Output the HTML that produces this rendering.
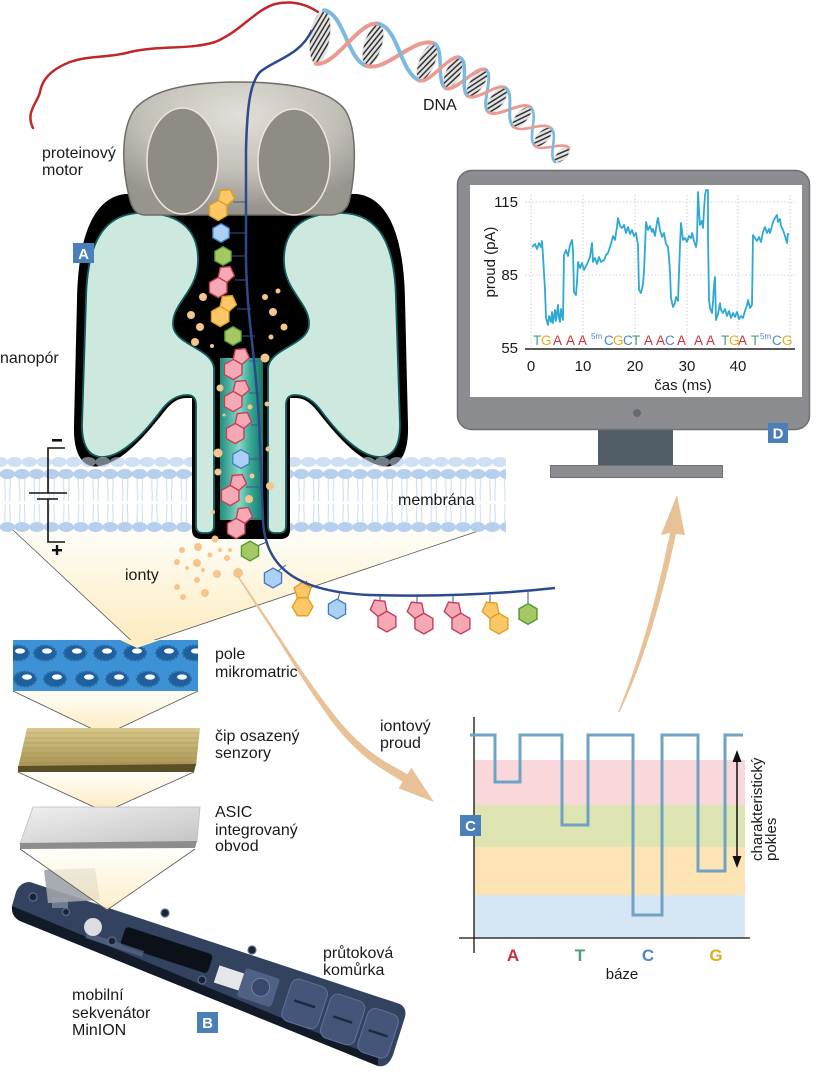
<!DOCTYPE html>
<html><head><meta charset="utf-8">
<style>
html,body{margin:0;padding:0;background:#fff;}
svg{display:block;}
text{font-family:"Liberation Sans",Arial,sans-serif;fill:#1a1a1a;}
.pk{fill:#f5a9b4;stroke:#c43c58;stroke-width:1.2;}
.yl{fill:#fcc867;stroke:#dea021;stroke-width:1.2;}
.bl{fill:#acd0f3;stroke:#3f79c4;stroke-width:1.2;}
.gr{fill:#a6c863;stroke:#4b9a2b;stroke-width:1.2;}
.cn{stroke:#3a5690;stroke-width:1;}
.ion{fill:#f7c48c;}
.lbl{font-size:16px;}
.badge{fill:#4a7fb9;}
.bt{fill:#fff;font-weight:bold;font-size:15px;text-anchor:middle;}
</style></head>
<body>
<svg width="816" height="1080" viewBox="0 0 816 1080" xmlns="http://www.w3.org/2000/svg" xmlns:xlink="http://www.w3.org/1999/xlink">
<defs>
  <pattern id="hatch" width="4" height="4" patternUnits="userSpaceOnUse" patternTransform="rotate(22)">
    <rect width="4" height="4" fill="#e2e2e2"/><rect width="1.5" height="4" fill="#333"/>
  </pattern>
  <pattern id="mem" x="0" y="455" width="14.7" height="80" patternUnits="userSpaceOnUse">
    <ellipse cx="0" cy="7" rx="7.6" ry="5" fill="#cfe0f4"/>
    <ellipse cx="14.7" cy="7" rx="7.6" ry="5" fill="#cfe0f4"/>
    <path d="M5,23 C4,31 6,37 5,46 M10,23 C11,31 9,37 10,46 M5,67 C4,60 6,55 5,49 M10,67 C11,60 9,55 10,49" stroke="#cadcf1" stroke-width="1" fill="none"/>
    <ellipse cx="7.35" cy="19" rx="7.6" ry="5" fill="#b5cfed"/>
    <ellipse cx="7.35" cy="72" rx="7.6" ry="5" fill="#b5cfed"/>
  </pattern>
  <radialGradient id="motorG" cx="0.5" cy="0.25" r="0.7">
    <stop offset="0" stop-color="#e2dfd8"/><stop offset=".6" stop-color="#c3c0b8"/><stop offset="1" stop-color="#98958f"/>
  </radialGradient>
  <linearGradient id="chan" x1="0" y1="0" x2="1" y2="0">
    <stop offset="0" stop-color="#1f8d7e"/><stop offset=".45" stop-color="#8ad8c6"/><stop offset=".7" stop-color="#3aa997"/><stop offset="1" stop-color="#167668"/>
  </linearGradient>
  <linearGradient id="fan" x1="0" y1="0" x2="0" y2="1">
    <stop offset="0" stop-color="#fffefa"/><stop offset="1" stop-color="#fcebbd"/>
  </linearGradient>
  <linearGradient id="gold" x1="0" y1="0" x2="0" y2="1">
    <stop offset="0" stop-color="#d8c98c"/><stop offset="1" stop-color="#a89350"/>
  </linearGradient>
  <linearGradient id="silver" x1="0" y1="0" x2="1" y2="1">
    <stop offset="0" stop-color="#f0f0f0"/><stop offset=".5" stop-color="#dadada"/><stop offset="1" stop-color="#c4c4c4"/>
  </linearGradient>
  <polygon id="hx" points="0,-9 7.8,-4.5 7.8,4.5 0,9 -7.8,4.5 -7.8,-4.5"/>
  <g id="pair">
    <polygon points="3.4,-4.1 -4.4,0.4 -11.1,-5.6 -7.4,-13.8 1.5,-12.9"/>
    <polygon points="3.4,-4.1 11.2,0.4 11.2,9.4 3.4,13.9 -4.4,9.4 -4.4,0.4"/>
  </g>
  <clipPath id="maClip"><rect x="13" y="640" width="185" height="51"/></clipPath>
</defs>

<!-- ===== Fan from membrane ===== -->
<polygon points="13,530 487,528 137,646" fill="url(#fan)"/>
<line x1="13" y1="530" x2="137" y2="646" stroke="#555" stroke-width=".8"/>
<line x1="487" y1="528" x2="137" y2="646" stroke="#555" stroke-width=".8"/>

<!-- ===== Membrane ===== -->
<rect x="0" y="455" width="506" height="80" fill="url(#mem)"/>

<!-- ===== Nanopore ===== -->
<g id="hullL">
<path d="M241,192 L125,194 C92,198 78,240 77,300 L74,425 C73,458 85,469 100,466 C125,461 148,432 164,412 C172,402 178,398 187,398 L192,398 L192,530 Q192,539 202,539 L241,539 Z" fill="#000"/>
</g>
<use href="#hullL" xlink:href="#hullL" transform="translate(482,0) scale(-1,1)"/>
<g id="wingL">
<path d="M86,300 C87,245 102,214 140,213 C182,212 199,232 198,262 C197,292 172,303 173,325 C174,345 212,348 214,368 L214,526 Q214,533 207,533 L203,533 Q196,533 196,526 L196,405 Q196,395 187,395 Q172,395 160,412 C142,436 120,458 101,457 C88,456 82,445 82,425 Z" fill="#cde9df" stroke="#0f5d5e" stroke-width="1.8"/>
</g>
<use href="#wingL" xlink:href="#wingL" transform="translate(482,0) scale(-1,1)"/>
<rect x="220" y="358" width="43" height="162" fill="url(#chan)"/>

<!-- membrane heads in front of wings -->
<rect x="0" y="455" width="190" height="26" fill="url(#mem)" opacity=".55"/>
<rect x="293" y="455" width="213" height="26" fill="url(#mem)" opacity=".55"/>

<!-- ions in pore -->
<g class="ion">
<circle cx="203" cy="297" r="4"/><circle cx="191" cy="315" r="4"/><circle cx="200" cy="327" r="4"/><circle cx="195" cy="342" r="4"/><circle cx="212" cy="346" r="2"/>
<circle cx="265" cy="297" r="3"/><circle cx="278" cy="291" r="2.5"/><circle cx="273" cy="312" r="4"/><circle cx="284" cy="327" r="3.5"/><circle cx="271" cy="337" r="2.5"/>
<circle cx="265" cy="358" r="4.5"/><circle cx="220" cy="388" r="3.5"/><circle cx="250" cy="407" r="2.5"/><circle cx="267" cy="404" r="2.5"/>
<circle cx="218" cy="453" r="4.5"/><circle cx="218" cy="472" r="3.5"/><circle cx="252" cy="476" r="2.5"/><circle cx="270" cy="486" r="4"/><circle cx="249" cy="499" r="4"/><circle cx="213" cy="512" r="2"/><circle cx="268" cy="449" r="2.5"/><circle cx="224" cy="415" r="1.5"/>
</g>

<!-- ===== Motor ===== -->
<path d="M130,200 C122,170 120,132 134,110 C152,88 195,82 238,82 C290,82 330,90 345,110 C357,128 356,170 350,198 C348,210 340,215 330,215 L145,215 C136,215 132,208 130,200 Z" fill="url(#motorG)" stroke="#6f6c66" stroke-width="1.5"/>
<ellipse cx="182.5" cy="161" rx="35.5" ry="53" fill="#8f8c86" stroke="#ece7dc" stroke-width="1.5"/>
<ellipse cx="294" cy="162" rx="36" ry="53" fill="#8f8c86" stroke="#ece7dc" stroke-width="1.5"/>

<!-- connectors to backbone -->
<g class="cn">
<line x1="233" y1="202" x2="246" y2="202"/><line x1="228" y1="233" x2="246" y2="233"/><line x1="230" y1="256" x2="246" y2="256"/>
<line x1="235" y1="280" x2="248" y2="280"/><line x1="237" y1="309" x2="251" y2="309"/><line x1="240" y1="336" x2="255" y2="336"/>
<line x1="249" y1="361" x2="258" y2="361"/><line x1="249" y1="393" x2="260" y2="393"/><line x1="251" y1="425" x2="261" y2="425"/>
<line x1="248" y1="459" x2="262" y2="459"/><line x1="246" y1="487" x2="263" y2="487"/><line x1="251" y1="519" x2="264" y2="519"/>
<line x1="257" y1="546" x2="267" y2="542"/><line x1="278" y1="571" x2="286" y2="565"/><line x1="302" y1="586" x2="307" y2="581"/>
<line x1="338" y1="599" x2="340" y2="592"/><line x1="380" y1="601" x2="380" y2="595"/><line x1="417" y1="604" x2="417" y2="596"/>
<line x1="453" y1="604" x2="453" y2="596"/><line x1="490" y1="604" x2="490" y2="595"/><line x1="528" y1="604" x2="528" y2="592"/>
</g>

<!-- bases in pore -->
<use href="#pair" xlink:href="#pair" class="yl" transform="translate(222,205) scale(-1.12,1.12)"/>
<use href="#hx" xlink:href="#hx" class="bl" transform="translate(221,233) scale(1.05)"/>
<use href="#hx" xlink:href="#hx" class="gr" transform="translate(223,256) scale(1.05)"/>
<use href="#pair" xlink:href="#pair" class="pk" transform="translate(222,282) scale(-1.12,1.12)"/>
<use href="#pair" xlink:href="#pair" class="yl" transform="translate(224,311) scale(-1.12,1.12)"/>
<use href="#hx" xlink:href="#hx" class="gr" transform="translate(233,336) scale(1.05)"/>
<use href="#pair" xlink:href="#pair" class="pk" transform="translate(237,364) scale(-1.12,1.12)"/>
<use href="#pair" xlink:href="#pair" class="pk" transform="translate(237,396) scale(-1.12,1.12)"/>
<use href="#pair" xlink:href="#pair" class="pk" transform="translate(239,428) scale(-1.12,1.12)"/>
<use href="#hx" xlink:href="#hx" class="bl" transform="translate(241,459) scale(1.05)"/>
<use href="#pair" xlink:href="#pair" class="pk" transform="translate(234,490) scale(-1.12,1.12)"/>
<use href="#pair" xlink:href="#pair" class="pk" transform="translate(240,523) scale(-1.12,1.12)"/>
<!-- bases outside -->
<use href="#hx" xlink:href="#hx" class="gr" transform="translate(250,551) scale(1.1)"/>
<use href="#hx" xlink:href="#hx" class="bl" transform="translate(273,578) scale(1.1)"/>
<use href="#pair" xlink:href="#pair" class="yl" transform="translate(302,600) rotate(30) scale(1.15)"/>
<use href="#hx" xlink:href="#hx" class="bl" transform="translate(337,609) scale(1.1)"/>
<use href="#pair" xlink:href="#pair" class="pk" transform="translate(383,616) scale(1.15)"/>
<use href="#pair" xlink:href="#pair" class="pk" transform="translate(420,618) scale(1.15)"/>
<use href="#pair" xlink:href="#pair" class="pk" transform="translate(457,618) scale(1.15)"/>
<use href="#pair" xlink:href="#pair" class="yl" transform="translate(495,618) scale(1.15)"/>
<use href="#hx" xlink:href="#hx" class="gr" transform="translate(528,614) scale(1.15)"/>

<!-- ions below pore -->
<g class="ion">
<circle cx="215" cy="539" r="3.5"/><circle cx="198" cy="547" r="4"/><circle cx="182" cy="550" r="3"/><circle cx="220" cy="550" r="2"/><circle cx="230" cy="550" r="2"/>
<circle cx="210" cy="555" r="2.5"/><circle cx="177" cy="562" r="3"/><circle cx="197" cy="563" r="4"/><circle cx="227" cy="558" r="3"/><circle cx="217" cy="574" r="4"/>
<circle cx="238" cy="573" r="5"/><circle cx="187" cy="568" r="2"/><circle cx="203" cy="570" r="2"/><circle cx="197" cy="580" r="3"/><circle cx="177" cy="587" r="3"/>
<circle cx="205" cy="593" r="4"/><circle cx="183" cy="597" r="3"/>
</g>

<!-- ===== DNA helix ===== -->
<path d="M33,128 C25,112 38,102 40,92 C42,80 50,70 70,62 C90,55 110,58 130,52 C160,45 190,50 215,42 C240,32 255,10 275,4 C292,0 306,4 318,12" fill="none" stroke="#c0282a" stroke-width="2.5" stroke-linecap="round"/>
<g stroke="#e9e9e9" stroke-width="1" fill="url(#hatch)">
<ellipse cx="320" cy="37" rx="10" ry="27" transform="rotate(9 320 37)"/>
<ellipse cx="373" cy="45" rx="9" ry="22" transform="rotate(17 373 45)"/>
<ellipse cx="427" cy="62" rx="8" ry="20" transform="rotate(22 427 62)"/>
<ellipse cx="453" cy="73" rx="7.5" ry="17" transform="rotate(25 453 73)"/>
<ellipse cx="477" cy="83" rx="7" ry="16" transform="rotate(35 477 83)"/>
<ellipse cx="497" cy="100" rx="7" ry="15" transform="rotate(36 497 100)"/>
<ellipse cx="522" cy="117" rx="6" ry="13" transform="rotate(42 522 117)"/>
<ellipse cx="543" cy="137" rx="6" ry="12" transform="rotate(43 543 137)"/>
<ellipse cx="562" cy="155" rx="5" ry="10" transform="rotate(45 562 155)"/>
</g>
<g fill="none" stroke-linecap="round">
<path d="M324.2,10.3 C344,13.4 347.5,60.2 366.6,66" stroke="#7db9de" stroke-width="4"/>
<path d="M366.6,66 C386.6,72 415,35.6 434.5,43.5" stroke="#ec9a8f" stroke-width="4"/>
<path d="M434.5,43.5 C444.7,47.6 435.8,83.7 445.8,88.4" stroke="#7db9de" stroke-width="3.5"/>
<path d="M445.8,88.4 C454.9,92.6 478,64.2 486.2,69.9" stroke="#ec9a8f" stroke-width="3.5"/>
<path d="M486.2,69.9 C494.4,75.6 480.1,106.2 488.2,112.1" stroke="#7db9de" stroke-width="3"/>
<path d="M488.2,112.1 C497.1,118.6 522.5,99.9 530.7,107.3" stroke="#ec9a8f" stroke-width="3"/>
<path d="M530.7,107.3 C538.9,114.7 526.8,138.3 534.8,145.8" stroke="#7db9de" stroke-width="2.6"/>
<path d="M534.8,145.8 C542.1,152.6 562,140.8 569.1,147.9" stroke="#ec9a8f" stroke-width="2.6"/>
<path d="M315.8,63.7 C336,67 360,18 379.4,24" stroke="#ec9a8f" stroke-width="4"/>
<path d="M379.4,24 C399,30 400,72.6 419.5,80.5" stroke="#7db9de" stroke-width="4"/>
<path d="M419.5,80.5 C429.7,84.6 450.2,52.9 460.2,57.6" stroke="#ec9a8f" stroke-width="3.5"/>
<path d="M460.2,57.6 C469.3,61.8 459.6,90.4 467.8,96.1" stroke="#7db9de" stroke-width="3.5"/>
<path d="M467.8,96.1 C476,101.8 497.7,82 505.8,87.9" stroke="#ec9a8f" stroke-width="3"/>
<path d="M505.8,87.9 C514.7,94.4 505.1,119.3 513.3,126.7" stroke="#7db9de" stroke-width="3"/>
<path d="M513.3,126.7 C521.5,134.1 543.2,120.7 551.2,128.2" stroke="#ec9a8f" stroke-width="2.6"/>
<path d="M551.2,128.2 C558.5,135 547.8,155 554.9,162.1" stroke="#7db9de" stroke-width="2.6"/>
</g>
<!-- backbone -->
<path d="M312,30 C300,56 274,60 260,72 C249,84 247,112 246,150 L246,260 C247,320 256,360 259,420 L263,520 C265,570 300,592 370,595 C440,597 500,594 555,588" fill="none" stroke="#2c4a8e" stroke-width="2.5"/>

<!-- ===== Battery ===== -->
<g stroke="#111" stroke-width="1.6" fill="none">
<path d="M65,448 L48,448 L48,493"/><line x1="29" y1="493" x2="67" y2="493"/><line x1="37" y1="499" x2="58" y2="499"/>
<path d="M48,499 L48,542 L65,542"/>
</g>
<rect x="52" y="439" width="10" height="2.6" fill="#111"/>
<rect x="52" y="549" width="10" height="2.4" fill="#111"/><rect x="55.8" y="545" width="2.4" height="10" fill="#111"/>

<!-- ===== Labels top/left ===== -->
<text class="lbl" x="42" y="158">proteinový</text>
<text class="lbl" x="42" y="175">motor</text>
<text class="lbl" x="0" y="363">nanopór</text>
<text class="lbl" x="423" y="110">DNA</text>
<text class="lbl" x="398" y="505">membrána</text>
<text class="lbl" x="125" y="580">ionty</text>
<rect class="badge" x="73" y="243" width="21" height="20"/><text class="bt" x="83.5" y="259">A</text>

<!-- ===== Microarray ===== -->
<rect x="13" y="640" width="185" height="51" fill="#3d92d6"/>
<g clip-path="url(#maClip)">
<g fill="#1f5f9b" stroke="#2a6aa6" stroke-width="2" stroke-dasharray="2 1.5">
<ellipse cx="18" cy="653" rx="11" ry="7.5"/><ellipse cx="45" cy="653" rx="11" ry="7.5"/><ellipse cx="75" cy="653" rx="11" ry="7.5"/><ellipse cx="105" cy="653" rx="11" ry="7.5"/><ellipse cx="135" cy="653" rx="11" ry="7.5"/><ellipse cx="167" cy="653" rx="11" ry="7.5"/><ellipse cx="194" cy="653" rx="11" ry="7.5"/>
<ellipse cx="25" cy="679" rx="11" ry="7.5"/><ellipse cx="55" cy="679" rx="11" ry="7.5"/><ellipse cx="87" cy="679" rx="11" ry="7.5"/><ellipse cx="117" cy="679" rx="11" ry="7.5"/><ellipse cx="148" cy="679" rx="11" ry="7.5"/><ellipse cx="180" cy="679" rx="11" ry="7.5"/>
</g>
<g fill="#fff">
<ellipse cx="20" cy="651" rx="5" ry="2.6"/><ellipse cx="47" cy="651" rx="5" ry="2.6"/><ellipse cx="77" cy="651" rx="5" ry="2.6"/><ellipse cx="107" cy="651" rx="5" ry="2.6"/><ellipse cx="137" cy="651" rx="5" ry="2.6"/><ellipse cx="169" cy="651" rx="5" ry="2.6"/><ellipse cx="196" cy="651" rx="5" ry="2.6"/>
<ellipse cx="27" cy="677" rx="5" ry="2.6"/><ellipse cx="57" cy="677" rx="5" ry="2.6"/><ellipse cx="89" cy="677" rx="5" ry="2.6"/><ellipse cx="119" cy="677" rx="5" ry="2.6"/><ellipse cx="150" cy="677" rx="5" ry="2.6"/><ellipse cx="182" cy="677" rx="5" ry="2.6"/>
</g>
</g>
<polygon points="120,640 160,640 137,648" fill="#fcedc2"/>
<text class="lbl" x="215" y="659">pole</text>
<text class="lbl" x="215" y="677">mikromatric</text>

<!-- fan 2 -->
<polygon points="13,691 198,691 105,735" fill="url(#fan)"/>
<polyline points="13,691 105,735 198,691" fill="none" stroke="#555" stroke-width=".8"/>

<!-- ===== Gold chip ===== -->
<polygon points="27,728 200,728 196,766 18,768" fill="url(#gold)"/>
<g stroke="#8c7c42" stroke-width=".6" opacity=".6">
<line x1="26" y1="733" x2="199" y2="733"/><line x1="25" y1="738" x2="199" y2="738"/><line x1="24" y1="743" x2="198" y2="743"/><line x1="23" y1="748" x2="198" y2="748"/><line x1="22" y1="753" x2="197" y2="753"/><line x1="21" y1="758" x2="197" y2="758"/><line x1="20" y1="763" x2="196" y2="763"/>
</g>
<polygon points="18,766 196,764 194,772 18,772" fill="#5b4f27"/>
<text class="lbl" x="215" y="741">čip osazený</text>
<text class="lbl" x="215" y="758">senzory</text>

<!-- fan 3 -->
<polygon points="18,772 194,772 105,812" fill="url(#fan)"/>
<polyline points="18,772 105,812 194,772" fill="none" stroke="#555" stroke-width=".8"/>

<!-- ===== ASIC ===== -->
<polygon points="33,807 200,807 197,842 20,844" fill="url(#silver)" stroke="#bcbcbc" stroke-width=".8"/>
<polygon points="20,843 197,841 195,848 20,849" fill="#8d8d8d"/>
<text class="lbl" x="215" y="817">ASIC</text>
<text class="lbl" x="215" y="835">integrovaný</text>
<text class="lbl" x="215" y="851">obvod</text>

<!-- ===== MinION device ===== -->
<path d="M30,882 L400,1004 Q407,1008 405,1017 L393,1055 Q388,1068 378,1066 L20,921 Q11,916 12,906 L16,892 Q20,882 30,882 Z" fill="#33435f"/>
<path d="M12,906 L378,1058 L378,1066 L20,921 Q11,916 12,906 Z" fill="#121927"/>
<polygon points="44,870 95,868 100,900 48,903" fill="#9ea3aa" opacity=".9"/>
<g transform="translate(30,882) rotate(18.2)">
  <rect x="105" y="12" width="92" height="20" rx="4" fill="#0c1018"/>
  <rect x="206" y="20" width="26" height="18" fill="#e6e7ea"/>
  <rect x="232" y="14" width="36" height="30" rx="3" fill="#4f6286"/>
  <circle cx="252" cy="28" r="9" fill="#39486a" stroke="#6e80a3"/>
  <rect x="280" y="8" width="38" height="44" rx="8" fill="#45557a" stroke="#5f7296"/>
  <rect x="322" y="10" width="36" height="46" rx="8" fill="#45557a" stroke="#5f7296"/>
  <rect x="362" y="12" width="32" height="46" rx="8" fill="#45557a" stroke="#5f7296"/>
  <line x1="288" y1="30" x2="310" y2="30" stroke="#1f2a3f" stroke-width="2.5"/>
  <line x1="330" y1="33" x2="350" y2="33" stroke="#1f2a3f" stroke-width="2.5"/>
  <line x1="368" y1="35" x2="388" y2="35" stroke="#1f2a3f" stroke-width="2.5"/>
  <rect x="70" y="30" width="60" height="6" fill="#58698a" opacity=".7"/>
</g>
<circle cx="93" cy="927" r="9" fill="#dcdde0"/>
<g fill="#1a2233" stroke="#5a6c8e" stroke-width="1.2">
<circle cx="33" cy="897" r="4"/><circle cx="112" cy="941" r="4"/><circle cx="165" cy="913" r="4"/><circle cx="252" cy="950" r="4"/><circle cx="202" cy="980" r="4"/><circle cx="66" cy="912" r="3.5"/>
</g>
<rect x="52" y="898" width="16" height="10" fill="#9aa2b0" opacity=".6"/>
<!-- fan 4 (translucent over device) -->
<polygon points="20,849 195,849 107,910" fill="url(#fan)" opacity=".8"/>
<polyline points="20,849 107,910 195,849" fill="none" stroke="#555" stroke-width=".8"/>
<text class="lbl" x="323" y="958">průtoková</text>
<text class="lbl" x="323" y="975">komůrka</text>
<text class="lbl" x="72" y="1000">mobilní</text>
<text class="lbl" x="72" y="1018">sekvenátor</text>
<text class="lbl" x="72" y="1035">MinION</text>
<rect class="badge" x="197" y="1012" width="21" height="21"/><text class="bt" x="207.5" y="1028">B</text>

<!-- ===== Orange arrows ===== -->
<path d="M238,575 Q258,605 281.2,639.2 Q310,684 335.3,716.1 Q358,745 385.5,761.9 L407.4,774.2 L411.4,767.8 L434,802 L398.6,788.2 L402.6,781.8 L380.5,768.1 Q353,750 330.7,719.9 Q306,686 278.8,640.8 Q256,606 237,576 Z" fill="#e8c296"/>
<path d="M618,712 Q648,640 670,533 L661,535 L677,495 L685,535 L676,534 Q652,646 619.5,712 Z" fill="#e8c296"/>
<text class="lbl" x="380" y="731">iontový</text>
<text class="lbl" x="380" y="748">proud</text>

<!-- ===== Chart C ===== -->
<rect x="474" y="760" width="271" height="45" fill="#f9d8dc"/>
<rect x="474" y="805" width="271" height="42" fill="#dfe4b3"/>
<rect x="474" y="847" width="271" height="48" fill="#fde4b5"/>
<rect x="474" y="895" width="271" height="43" fill="#d6e6f5"/>
<line x1="474" y1="717" x2="474" y2="953" stroke="#111" stroke-width="1.3"/>
<line x1="459" y1="938" x2="750" y2="938" stroke="#111" stroke-width="1.3"/>
<polyline points="470,735 495,735 495,782 520,782 520,735 562,735 562,825 588,825 588,735 633,735 633,915 662,915 662,735 698,735 698,871 725,871 725,735 743,735" fill="none" stroke="#6fa3c4" stroke-width="3"/>
<line x1="737" y1="758" x2="737" y2="860" stroke="#111" stroke-width="1.5"/>
<polygon points="737,750 732.5,762 741.5,762" fill="#111"/>
<polygon points="737,868 732.5,856 741.5,856" fill="#111"/>
<text transform="translate(762,861) rotate(-90)" font-size="15">charakteristický</text>
<text transform="translate(776,861) rotate(-90)" font-size="15">pokles</text>
<rect class="badge" x="460" y="815" width="21" height="21"/><text class="bt" x="470.5" y="831">C</text>
<g font-weight="bold" font-size="17" text-anchor="middle">
<text x="513" y="961" style="fill:#c8323c">A</text>
<text x="580" y="961" style="fill:#4a9e78">T</text>
<text x="648" y="961" style="fill:#4f85c0">C</text>
<text x="716" y="961" style="fill:#e2ac1c">G</text>
</g>
<text x="622" y="979" font-size="15" text-anchor="middle">báze</text>

<!-- ===== Monitor ===== -->
<rect x="598" y="428" width="75" height="38" fill="#505d66"/>
<rect x="550.5" y="465.5" width="172" height="12" fill="#8b8d90" stroke="#6e7073"/>
<rect x="457.5" y="170.5" width="352" height="259" rx="14" fill="#8b8d90" stroke="#6e7073" stroke-width="1.5"/>
<rect x="470" y="185" width="332" height="212" fill="#fff"/>
<circle cx="637" cy="413" r="4" fill="#666a70"/>
<rect class="badge" x="768" y="423" width="20" height="20"/><text class="bt" x="778" y="438.5">D</text>
<!-- chart D -->
<g stroke="#c4c4c4" stroke-width=".8" stroke-dasharray="1.5 2">
<line x1="525" y1="202" x2="795" y2="202"/><line x1="525" y1="275" x2="795" y2="275"/>
<line x1="531" y1="195" x2="531" y2="349"/><line x1="583" y1="195" x2="583" y2="349"/><line x1="635" y1="195" x2="635" y2="349"/><line x1="687" y1="195" x2="687" y2="349"/><line x1="738" y1="195" x2="738" y2="349"/><line x1="790" y1="195" x2="790" y2="349"/>
</g>
<line x1="525" y1="349" x2="795" y2="349" stroke="#222" stroke-width="1.5"/>
<g font-size="15" text-anchor="end">
<text x="518" y="207">115</text><text x="518" y="280">85</text><text x="518" y="353">55</text>
</g>
<g font-size="15" text-anchor="middle">
<text x="531" y="371">0</text><text x="583" y="371">10</text><text x="635" y="371">20</text><text x="687" y="371">30</text><text x="738" y="371">40</text>
<text x="683" y="390">čas (ms)</text>
</g>
<text transform="translate(495,262) rotate(-90)" font-size="15" text-anchor="middle">proud (pA)</text>
<polyline fill="none" stroke="#2ea8d5" stroke-width="1.8" stroke-linejoin="round" points="532,247 535,244 537,249 539,243 541,247 542,241 543,256 545,290 546,318 548,325 549,316 551,322 552,312 553,323 555,310 556,321 558,305 559,318 560,322 561,309 563,320 564,255 566,250 568,256 570,245 572,240 573,250 574,292 576,295 577,282 578,262 580,268 582,263 584,270 586,266 588,262 590,257 592,243 593,262 595,258 597,264 599,257 601,262 604,260 606,255 608,253 610,247 612,240 613,236 615,240 617,227 618,218 620,226 622,228 624,225 626,233 628,227 630,234 632,230 634,236 636,233 638,245 639,290 641,293 643,284 644,272 646,222 648,230 650,226 652,232 653,229 655,236 657,222 658,218 660,230 662,237 664,233 666,244 668,247 669,258 670,272 671,298 673,307 675,303 676,297 678,301 679,273 680,245 681,223 682,231 683,240 685,238 687,242 689,236 691,238 692,233 694,241 696,247 697,240 698,192 699,210 700,225 702,221 703,228 704,210 705,195 706,190 708,190 708,237 709,300 710,308 712,313 713,302 714,285 715,277 716,320 718,314 720,303 721,310 723,313 725,309 727,316 729,311 731,318 733,313 735,317 737,312 739,319 741,316 743,318 745,311 747,305 748,300 750,308 752,305 753,235 755,238 757,241 759,237 761,242 763,232 765,227 767,233 769,229 770,233 772,226 773,222 775,218 777,215 778,222 780,219 781,226 783,230 785,236 787,243 788,233"/>
<text font-size="13.5" y="345">
<tspan x="533" style="fill:#4a9e78">T</tspan><tspan x="541" style="fill:#e2ac1c">G</tspan>
<tspan x="553" style="fill:#c8323c">A</tspan><tspan x="566" style="fill:#c8323c">A</tspan><tspan x="578" style="fill:#c8323c">A</tspan>
<tspan x="591" y="339" font-size="8" style="fill:#4f85c0">5m</tspan><tspan x="604" y="345" style="fill:#4f85c0">C</tspan><tspan x="613" y="345" style="fill:#e2ac1c">G</tspan><tspan x="623" style="fill:#4f85c0">C</tspan><tspan x="632" style="fill:#4a9e78">T</tspan>
<tspan x="644" style="fill:#c8323c">A</tspan><tspan x="656" style="fill:#c8323c">A</tspan><tspan x="665" style="fill:#4f85c0">C</tspan><tspan x="677" style="fill:#c8323c">A</tspan>
<tspan x="694" style="fill:#c8323c">A</tspan><tspan x="706" style="fill:#c8323c">A</tspan>
<tspan x="721" style="fill:#4a9e78">T</tspan><tspan x="729" style="fill:#e2ac1c">G</tspan><tspan x="738" style="fill:#c8323c">A</tspan>
<tspan x="751" style="fill:#4a9e78">T</tspan><tspan x="760" y="339" font-size="8" style="fill:#4f85c0">5m</tspan><tspan x="772" y="345" style="fill:#4f85c0">C</tspan><tspan x="782" y="345" style="fill:#e2ac1c">G</tspan>
</text>
</svg>
</body></html>
